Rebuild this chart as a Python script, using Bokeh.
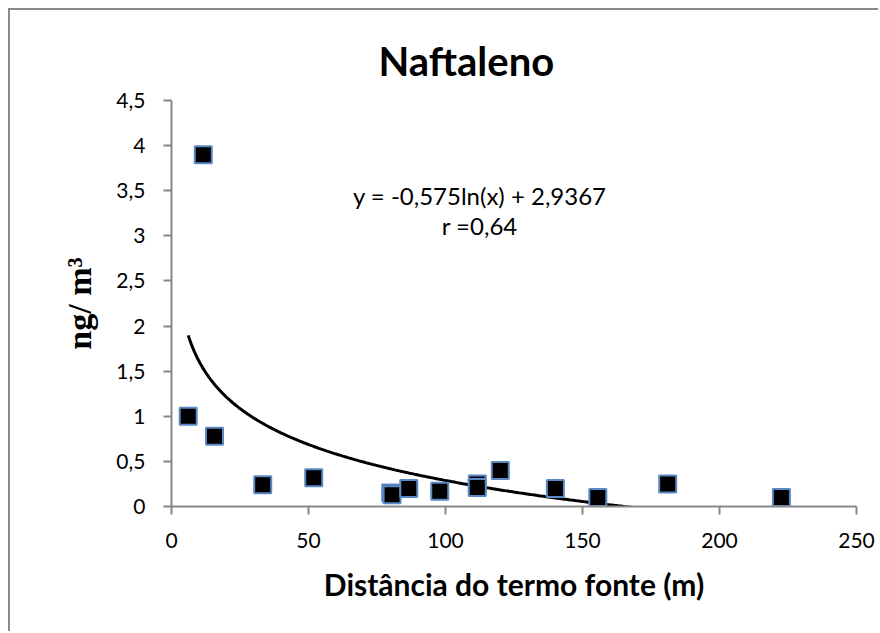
import numpy as np
from bokeh.plotting import figure
from bokeh.models import Range1d, FixedTicker, Label, CustomJSTickFormatter
from bokeh.embed import file_html
from bokeh.resources import INLINE

# ---- data ----
distance_m = [6.1, 11.6, 15.7, 33.3, 51.9, 80.0, 80.5, 86.6, 97.9, 111.6, 111.6, 120.0, 140.1, 155.6, 181.1, 222.6]
conc_ng_m3 = [1.00, 3.90, 0.78, 0.24, 0.32, 0.15, 0.13, 0.20, 0.17, 0.25, 0.21, 0.40, 0.20, 0.10, 0.25, 0.10]

# logarithmic trend line shown on the chart: y = a*ln(x) + b
trend_a = -0.575
trend_b = 2.9367
trend_text = "y = -0,575ln(x) + 2,9367"
r_text = "r =0,64"

x_ticks = [0, 50, 100, 150, 200, 250]
y_ticks = [0, 0.5, 1, 1.5, 2, 2.5, 3, 3.5, 4, 4.5]

title_text = "Naftaleno"
x_label = "Distância do termo fonte (m)"
y_label = "ng/ m³"

FONT = "Lato"
AXIS_COLOR = "#878787"

p = figure(width=870, height=623, output_backend="svg", toolbar_location=None,
           x_range=Range1d(0, 250), y_range=Range1d(0, 4.5),
           min_border_left=161, min_border_right=24, min_border_top=90, min_border_bottom=127,
           margin=(8, 0, 0, 8))
p.styles = {"border-left": "2px solid #8a8a8a", "border-top": "2px solid #8a8a8a"}
p.outline_line_color = None
p.grid.visible = False
p.background_fill_color = "white"
p.border_fill_color = "white"

# title
p.title.text = title_text
p.title.align = "left"
p.title.offset = 207
p.title.text_font = FONT
p.title.text_font_style = "bold"
p.title.text_font_size = "40px"
p.title.text_color = "black"
p.title.standoff = 32

# axes
for ax in (p.xaxis[0], p.yaxis[0]):
    ax.axis_line_color = AXIS_COLOR
    ax.axis_line_width = 2
    ax.major_tick_line_color = AXIS_COLOR
    ax.major_tick_line_width = 2
    ax.major_tick_in = 0
    ax.major_tick_out = 8
    ax.minor_tick_line_color = None
    ax.major_label_text_font = FONT
    ax.major_label_text_font_size = "21px"
    ax.major_label_text_color = "black"

fmt = CustomJSTickFormatter(code="return String(tick).replace('.', ',');")
p.xaxis.ticker = FixedTicker(ticks=x_ticks)
p.yaxis.ticker = FixedTicker(ticks=y_ticks)
p.xaxis.formatter = fmt
p.yaxis.formatter = fmt
p.xaxis.major_label_standoff = 18
p.yaxis.major_label_standoff = 18

p.xaxis.axis_label = x_label
p.xaxis.axis_label_text_font = FONT
p.xaxis.axis_label_text_font_style = "bold"
p.xaxis.axis_label_text_font_size = "30px"
p.xaxis.axis_label_text_color = "black"
p.xaxis.axis_label_standoff = 15

p.yaxis.axis_label = y_label
p.yaxis.axis_label_text_font = "Liberation Serif"
p.yaxis.axis_label_text_font_style = "bold"
p.yaxis.axis_label_text_font_size = "34px"
p.yaxis.axis_label_text_color = "black"
p.yaxis.axis_label_standoff = 15

# trend line (clipped to frame at y=0)
tx = np.linspace(min(distance_m), max(distance_m), 400)
ty = trend_a * np.log(tx) + trend_b
p.line(tx, ty, line_color="black", line_width=3)

# points
p.scatter(distance_m, conc_ng_m3, marker="square", size=17,
          fill_color="black", line_color="#5A8AC6", line_width=2)

# equation
p.add_layout(Label(x=112.5, y=3.45, text=trend_text, text_align="center",
                   text_baseline="alphabetic", text_font=FONT, text_font_size="24px",
                   text_color="black"))
p.add_layout(Label(x=112.5, y=3.11, text=r_text, text_align="center",
                   text_baseline="alphabetic", text_font=FONT, text_font_size="24px",
                   text_color="black"))

open("out.html", "w").write(file_html(p, INLINE))
